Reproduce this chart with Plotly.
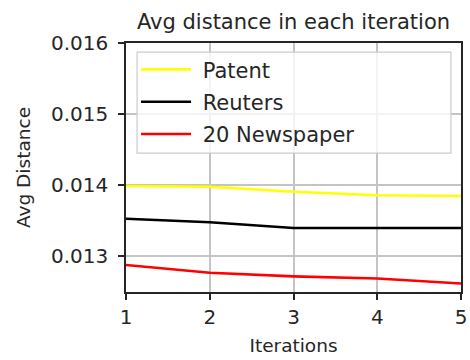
import plotly.graph_objects as go

iterations = [1, 2, 3, 4, 5]
patent = [0.01399, 0.01398, 0.01391, 0.01386, 0.01385]
reuters = [0.01353, 0.01348, 0.01340, 0.01340, 0.01340]
newspaper = [0.01288, 0.01277, 0.01272, 0.01269, 0.01262]
series_names = ["Patent", "Reuters", "20 Newspaper"]
y_ticks = [0.013, 0.014, 0.015, 0.016]
y_tick_labels = ["0.013", "0.014", "0.015", "0.016"]

series = [(series_names[0], patent, "#ffff00"),
          (series_names[1], reuters, "#000000"),
          (series_names[2], newspaper, "#ff0000")]

fig = go.Figure()
for i, (name, vals, col) in enumerate(series):
    fig.add_trace(go.Scatter(x=iterations, y=vals, name="\u00a0" + name, mode="lines",
                             line=dict(color=col, width=2.6),
                             legendgroup=f"g{i}"))

font = "DejaVu Sans, sans-serif"
fig.update_layout(
    width=470, height=360,
    margin=dict(l=126, r=9, t=43, b=68, autoexpand=False),
    paper_bgcolor="white", plot_bgcolor="white",
    font=dict(family=font, color="#262626"),
    title=dict(text="Avg distance in each iteration", x=0.5, xref="paper",
               xanchor="center", y=0.94, yref="container", yanchor="middle",
               font=dict(size=21, color="#262626")),
    showlegend=True,
    legend=dict(x=0.03, y=0.975, xanchor="left", yanchor="top",
                bgcolor="rgba(0,0,0,0)", borderwidth=0,
                font=dict(size=21, color="#262626"),
                tracegroupgap=2, itemwidth=50),
    shapes=[dict(type="rect", xref="x domain", yref="y domain",
                 x0=0.033, x1=0.97, y0=0.558, y1=0.963,
                 line=dict(color="#cccccc", width=1.2),
                 fillcolor="rgba(255,255,255,0.8)", layer="above")],
)
fig.update_xaxes(range=[1, 5], tickvals=iterations, ticks="outside", ticklen=6,
                 tickwidth=1.5, tickcolor="#262626", automargin=False,
                 tickfont=dict(size=20, color="#262626"),
                 showgrid=True, gridcolor="#c4c4c4", gridwidth=1.5,
                 showline=True, linecolor="#262626", linewidth=1.6, mirror=True,
                 zeroline=False,
                 title=dict(text="Iterations", font=dict(size=18.5, color="#262626"), standoff=11))
fig.update_yaxes(range=[0.0125, 0.016], tickvals=y_ticks, ticktext=y_tick_labels,
                 ticks="outside", ticklen=6, tickwidth=1.5, tickcolor="#262626",
                 automargin=False, ticklabelstandoff=6,
                 tickfont=dict(size=20, color="#262626"),
                 showgrid=True, gridcolor="#c4c4c4", gridwidth=1.5,
                 showline=True, linecolor="#262626", linewidth=1.6, mirror=True,
                 zeroline=False,
                 title=dict(text="Avg Distance", font=dict(size=18.5, color="#262626"), standoff=15))

fig.write_html("out.html", config={"displayModeBar": False},
               post_script="document.body.style.margin='0';")
